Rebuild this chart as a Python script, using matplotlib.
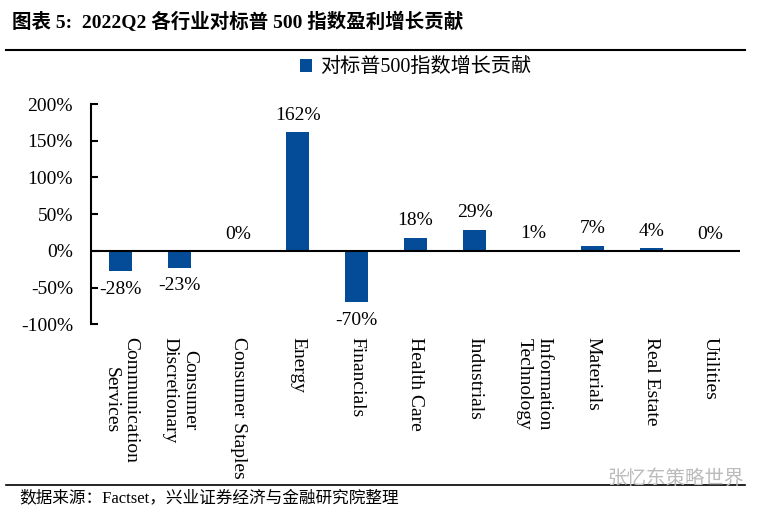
import matplotlib
matplotlib.use("Agg")
import matplotlib.pyplot as plt
import numpy as np

plt.rcParams['font.family'] = ['Liberation Serif', 'Noto Sans CJK SC', 'DejaVu Sans']

sectors = ["Communication\nServices", "Consumer\nDiscretionary", "Consumer Staples",
           "Energy", "Financials", "Health Care", "Industrials",
           "Information\nTechnology", "Materials", "Real Estate", "Utilities"]
contrib = [-28, -23, 0, 162, -70, 18, 29, 1, 7, 4, 0]
yticks = [-100, -50, 0, 50, 100, 150, 200]

title = "图表 5:  2022Q2 各行业对标普 500 指数盈利增长贡献"
legend_label = "对标普500指数增长贡献"
source = "数据来源：Factset，兴业证券经济与金融研究院整理"
bar_color = "#044B98"

fig = plt.figure(figsize=(7.59, 5.13), dpi=100)
ax = fig.add_axes([0.12, 0.368, 0.855, 0.429])

x = np.arange(len(sectors))
bars = ax.bar(x, contrib, width=0.4, color=bar_color, label=legend_label, zorder=2)
ax.axhline(0, color="black", lw=1.5, zorder=3)

for xi, v in zip(x, contrib):
    if v < 0:
        ax.annotate(f"{v}%", (xi, v), xytext=(0, -7), textcoords="offset points",
                    ha="center", va="top", fontsize=14)
    else:
        ax.annotate(f"{v}%", (xi, v), xytext=(0, 6), textcoords="offset points",
                    ha="center", va="bottom", fontsize=14)

ax.set_xlim(-0.5, len(sectors) - 0.5)
ax.set_ylim(-100, 200)
ax.set_yticks(yticks)
ax.set_yticklabels([f"{t}%" for t in yticks], fontsize=14)
ax.set_xticks(x)
ax.set_xticklabels(sectors, rotation=270, fontsize=14, va="top", ha="center",
                   multialignment="center")
ax.tick_params(axis="x", length=0, pad=9)
ax.tick_params(axis="y", direction="in", length=5, width=1.5, pad=13)
for s in ["top", "right", "bottom"]:
    ax.spines[s].set_visible(False)
ax.spines["left"].set_linewidth(1.5)

ax.legend(loc="lower center", bbox_to_anchor=(0.5, 1.04), frameon=False,
          fontsize=14.5, handlelength=0.6, handleheight=0.6, handletextpad=0.4)

fig.text(0.016, 0.958, title, fontsize=14, fontweight="bold", va="center")
fig.add_artist(plt.Line2D([0.008, 0.982], [0.902, 0.902], color="black", lw=1.5))
fig.add_artist(plt.Line2D([0.008, 0.982], [0.055, 0.055], color="black", lw=1.2))
fig.text(0.026, 0.028, source, fontsize=12, va="center")
fig.text(0.80, 0.068, "张忆东策略世界", fontsize=14, color="#BBBBBB", va="center",
         family=["Noto Sans CJK SC"])

fig.savefig("out.png", dpi=100)
